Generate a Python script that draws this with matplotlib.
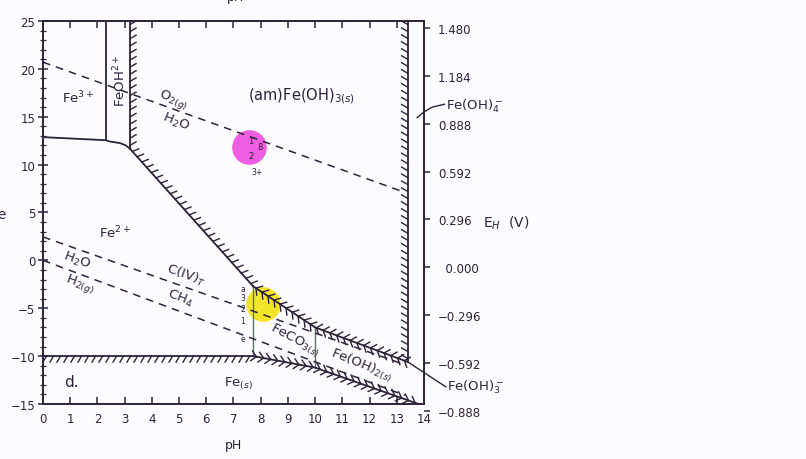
import matplotlib
matplotlib.use("Agg")
import matplotlib.pyplot as plt
from matplotlib import patheffects as pfx

# ---------------- data: pe-pH diagram for iron (pH, pe) ----------------
# Fe3+ / FeOH2+ -> Fe2+ boundary
fe3_fe2_ph = [0.0, 2.3, 2.46, 2.83, 3.05, 3.2]
fe3_fe2_pe = [12.87, 12.55, 12.41, 12.25, 12.0, 11.65]
# Fe3+ / FeOH2+
fe3_feoh_ph = [2.3, 2.3]
fe3_feoh_pe = [12.55, 25.0]
# FeOH2+ / (am)Fe(OH)3
feoh_am_ph = [3.2, 3.2]
feoh_am_pe = [11.65, 25.0]
# (am)Fe(OH)3 / Fe2+
am_fe2_ph = [3.2, 7.72]
am_fe2_pe = [11.65, -2.7]
# (am)Fe(OH)3 / FeCO3 / Fe(OH)2
am_low_ph = [7.72, 10.0, 13.4]
am_low_pe = [-2.7, -7.0, -10.6]
# (am)Fe(OH)3 / Fe(OH)4-
am_feoh4_ph = [13.4, 13.4]
am_feoh4_pe = [-10.6, 25.0]
# Fe2+ / Fe(s)
fe2_fes_ph = [0.0, 7.72]
fe2_fes_pe = [-10.0, -10.0]
# Fe2+ / FeCO3
fe2_co3_ph = [7.72, 7.72]
fe2_co3_pe = [-10.0, -2.7]
# FeCO3 / Fe(OH)2 -> Fe(s)
fes_up_ph = [7.72, 10.0, 13.8]
fes_up_pe = [-10.0, -11.2, -15.0]
# FeCO3 / Fe(OH)2
co3_oh2_ph = [10.0, 10.0]
co3_oh2_pe = [-7.0, -11.2]

# water and carbon couples
o2_h2o_ph = [0.0, 13.1]
o2_h2o_pe = [20.7, 7.3]
c4_ch4_ph = [0.0, 13.2]
c4_ch4_pe = [2.45, -10.8]
h2o_h2_ph = [0.0, 13.3]
h2o_h2_pe = [0.0, -14.1]

# leader lines for the anion labels
feoh4_lead_ph = [13.75, 14.0, 14.3, 14.75]
feoh4_lead_pe = [14.9, 15.5, 16.0, 16.3]
feoh3_lead_ph = [13.4, 14.8]
feoh3_lead_pe = [-10.6, -13.2]

# axis ticks
ph_ticks = list(range(0, 15))
pe_ticks = [25, 20, 15, 10, 5, 0, -5, -10, -15]
pe_labels = ["25", "20", "15", "10", "5", "0", "\u22125", "\u221210", "\u221215"]
eh_labels = ["1.480", "1.184", "0.888", "0.592", "0.296", "\u20070.000",
             "\u22120.296", "\u22120.592", "\u22120.888"]

# highlight marks
pink_mark = (7.57, 11.84)
yellow_mark = (8.09, -4.56)

# ---------------- drawing ----------------
INK = "#2d2238"
GREEN = "#4f7d5c"
plt.rcParams["font.family"] = ["DejaVu Sans"]
plt.rcParams["mathtext.fontset"] = "dejavusans"

fig = plt.figure(figsize=(8.06, 4.6), dpi=100, facecolor="#fcfbfd")
rect = [0.0533, 0.1196, 0.4727, 0.8326]
ax = fig.add_axes(rect)
ax.set_facecolor("#fcfbfd")
ax.set_xlim(0, 14)
ax.set_ylim(-15, 25)


def ticked(angles, spacing=5.0, length=1.0):
    effects = [pfx.TickedStroke(angle=a, spacing=spacing, length=length,
                                linewidth=1.0) for a in angles]
    return effects + [pfx.Normal()]


lw = 1.3
# plain boundaries
ax.plot(fe3_fe2_ph, fe3_fe2_pe, color=INK, lw=lw)
ax.plot(fe3_feoh_ph, fe3_feoh_pe, color=INK, lw=lw)
ax.plot(fe2_co3_ph, fe2_co3_pe, color=GREEN, lw=1.0)
ax.plot(co3_oh2_ph, co3_oh2_pe, color=GREEN, lw=1.0)

# hatched solid-phase boundaries
ax.plot(feoh_am_ph, feoh_am_pe, color=INK, lw=lw,
        path_effects=ticked([-60]))
ax.plot(am_fe2_ph, am_fe2_pe, color=INK, lw=lw,
        path_effects=ticked([70]))
ax.plot(am_low_ph, am_low_pe, color=INK, lw=lw,
        path_effects=ticked([50, -50]))
ax.plot(am_feoh4_ph, am_feoh4_pe, color=INK, lw=lw,
        path_effects=ticked([60]))
ax.plot(fe2_fes_ph, fe2_fes_pe, color=INK, lw=lw,
        path_effects=ticked([-120]))
ax.plot(fes_up_ph, fes_up_pe, color=INK, lw=lw,
        path_effects=ticked([135, -135]))

# dashed redox couples
dash = (0, (5, 4))
for xs, ys in [(o2_h2o_ph, o2_h2o_pe), (c4_ch4_ph, c4_ch4_pe),
               (h2o_h2_ph, h2o_h2_pe)]:
    ax.plot(xs, ys, color=INK, lw=1.1, linestyle=dash)

# leaders to the labels outside the frame
ax.plot(feoh4_lead_ph, feoh4_lead_pe, color=INK, lw=1.0, clip_on=False)
ax.plot(feoh3_lead_ph, feoh3_lead_pe, color=INK, lw=1.0, clip_on=False)

# highlight marks
ax.scatter([pink_mark[0]], [pink_mark[1]], s=620, color="#ee4fe0",
           alpha=0.92, zorder=1, linewidths=0)
ax.scatter([yellow_mark[0]], [yellow_mark[1]], s=620, color="#f3e41a",
           alpha=0.92, zorder=1, linewidths=0)

# region labels
tk = dict(color=INK, ha="center", va="center")
ax.text(1.3, 17.1, r"Fe$^{3+}$", fontsize=9.5, **tk)
ax.text(2.83, 18.9, r"FeOH$^{2+}$", fontsize=9.5, rotation=90, **tk)
ax.text(4.8, 16.9, r"O$_{2(g)}$", fontsize=9.5, rotation=-22, **tk)
ax.text(4.9, 14.5, r"H$_2$O", fontsize=9.5, rotation=-22, **tk)
ax.text(9.5, 17.2, r"(am)Fe(OH)$_{3(s)}$", fontsize=10.5, **tk)
ax.text(2.65, 3.0, r"Fe$^{2+}$", fontsize=9.5, **tk)
ax.text(1.25, 0.1, r"H$_2$O", fontsize=9.5, rotation=-20, **tk)
ax.text(1.35, -2.4, r"H$_{2(g)}$", fontsize=9.5, rotation=-20, **tk)
ax.text(5.25, -1.5, r"C(IV)$_T$", fontsize=9.5, rotation=-20, **tk)
ax.text(5.05, -3.9, r"CH$_4$", fontsize=9.5, rotation=-20, **tk)
ax.text(9.25, -8.3, r"FeCO$_{3(s)}$", fontsize=9.5, rotation=-28, **tk)
ax.text(11.7, -10.8, r"Fe(OH)$_{2(s)}$", fontsize=9.5, rotation=-22, **tk)
ax.text(7.2, -12.8, r"Fe$_{(s)}$", fontsize=9.5, **tk)
ax.text(1.05, -12.7, "d.", fontsize=11, **tk)

# small annotations around the marks
ax.text(7.65, 12.55, "1", fontsize=6, **tk)
ax.text(7.65, 11.0, "2", fontsize=6, **tk)
ax.text(7.98, 11.85, "8", fontsize=6, **tk)
ax.text(7.85, 9.25, "3+", fontsize=5.5, **tk)
for yy, ch in zip([-2.9, -3.9, -5.0, -6.3, -8.2], ["a", "3", "2", "1", "e"]):
    ax.text(7.35, yy, ch, fontsize=5.5, **tk)

# anion labels outside the frame
ax.text(14.8, 16.2, r"Fe(OH)$_4^-$", fontsize=9.5, color=INK,
        ha="left", va="center", clip_on=False)
ax.text(14.85, -13.2, r"Fe(OH)$_3^-$", fontsize=9.5, color=INK,
        ha="left", va="center", clip_on=False)

# ---------------- axes ----------------
for s in ax.spines.values():
    s.set_color(INK)
    s.set_linewidth(1.4)

ax.set_xticks(ph_ticks)
ax.set_xticklabels([str(t) for t in ph_ticks], fontsize=8.5, color=INK)
ax.tick_params(axis="x", which="major", direction="in", length=5,
               width=1.1, color=INK, top=True, pad=6)
ax.set_yticks(pe_ticks)
ax.set_yticklabels(pe_labels, fontsize=8.5, color=INK)
ax.set_yticks(range(-15, 26), minor=True)
ax.tick_params(axis="y", which="major", direction="inout", length=7,
               width=1.1, color=INK, pad=2)
ax.tick_params(axis="y", which="minor", direction="inout", length=4,
               width=0.9, color=INK)
ax.set_xlabel("pH", fontsize=9, color=INK, labelpad=9)

# E_H scale on the right, set a few pixels lower like the printed scale
ax2 = fig.add_axes([rect[0], rect[1] - 7 / 460, rect[2], rect[3]])
ax2.patch.set_visible(False)
for s in ax2.spines.values():
    s.set_visible(False)
ax2.set_xlim(0, 14)
ax2.set_ylim(-15, 25)
ax2.set_xticks([])
ax2.yaxis.tick_right()
ax2.set_yticks(pe_ticks)
ax2.set_yticklabels(eh_labels, fontsize=8.5, color=INK)
ax2.tick_params(axis="y", direction="out", length=4, width=1.1,
                color=INK, pad=6)

fig.text(483 / 806, 1 - 223 / 460, r"E$_H$  (V)", fontsize=10, color=INK,
         ha="left", va="center")
fig.text(7 / 806, 1 - 215 / 460, "pe", fontsize=10, color=INK,
         ha="right", va="center")
fig.text(236 / 806, 1 + 2 / 460, "pH", fontsize=9, color=INK,
         ha="center", va="center")

fig.savefig("out.png", dpi=100, facecolor=fig.get_facecolor())
